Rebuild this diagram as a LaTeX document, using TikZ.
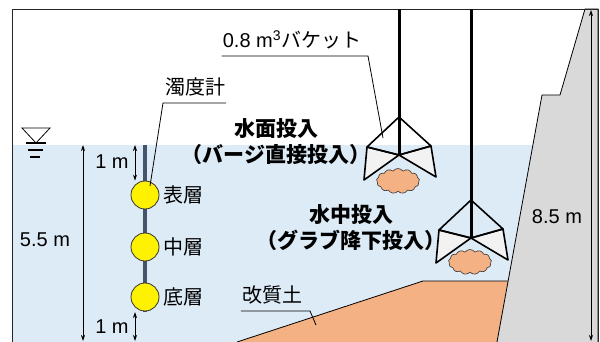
\documentclass[tikz,border=0pt]{standalone}
\usepackage{fontspec}
\setmainfont{Liberation Sans}
\newfontfamily\jp{Noto Sans CJK JP}
\usepackage{tikz}
\usetikzlibrary{arrows.meta,positioning,shapes.symbols}
\definecolor{waterBlue}{RGB}{221,235,247}
\definecolor{soilOrange}{RGB}{244,177,131}
\definecolor{wallGray}{RGB}{217,217,217}
\definecolor{rodSlate}{RGB}{68,84,106}
\definecolor{bucketGray}{RGB}{242,242,242}

\begin{document}
\begin{tikzpicture}[x=1pt, y=-1pt, font=\fontsize{20}{24}\selectfont,
  lbl/.style={inner sep=1pt},
  jtxt/.style={inner sep=1pt, font=\fontsize{20}{24}\selectfont\jp},
  jbold/.style={align=center, inner sep=0pt, font=\fontsize{21}{26}\selectfont\jp\bfseries},
  dim/.style={line width=0.8pt, {Stealth[length=6pt,width=4pt]}-{Stealth[length=6pt,width=4pt]}},
  leader/.style={line width=0.8pt},
  rope/.style={line width=3pt},
  bucketline/.style={line width=1.6pt, line join=round},
  sensor/.style={circle, draw=black!80, line width=0.8pt, fill=yellow, minimum size=28pt, inner sep=0pt},
  mud/.style={cloud, cloud puffs=13, cloud puff arc=110, aspect=1.8, draw=black!80, line width=0.6pt,
    fill=soilOrange, minimum width=43pt, minimum height=25pt, inner sep=0pt},
  bucketpic/.pic={
    \coordinate (-c) at (0,0);
    \draw[bucketline, fill=bucketGray] (-32,-8) -- (0,0) -- (-35,25) -- cycle;
    \draw[bucketline, fill=bucketGray] (32,-9) -- (0,0) -- (37,22) -- cycle;
    \draw[bucketline] (0,0) -- (-32,-8) -- (0,-38) -- (32,-9) -- cycle;
  }]
\useasboundingbox (0,0) rectangle (600,342);
% 水域
\fill[waterBlue] (12,145) rectangle (598,342);
% 改質土
\fill[soilOrange] (237,342) -- (423,281) -- (520,281) -- (520,342) -- cycle;
\draw[line width=0.8pt] (237,342) -- (423,281) -- (515,281);
% 岸壁
\draw[fill=wallGray, line width=0.8pt] (497,342) -- (542,95) -- (560,95) -- (585,9) -- (598,9) -- (598,342);
% 枠
\draw[line width=0.8pt, black!85] (12,342) -- (12,9) -- (598,9) -- (598,342);
% 水位記号
\draw[line width=0.8pt, fill=white] (22,128) -- (50,128) -- (36,143) -- cycle;
\draw[line width=1.4pt] (26,143) -- (46,143) (28,150) -- (43,150) (30,157) -- (40,157);

% 濁度計
\coordinate (rodTop) at (145,145);
\coordinate (rodBot) at (145,312);
\draw[line width=4pt, rodSlate] (rodTop) -- (rodBot);
\node[sensor] (sens1) at (145,195) {};
\node[sensor] (sens2) at (145,247) {};
\node[sensor] (sens3) at (145,297) {};
\node[jtxt, right=3pt of sens1] (lay1) {表層};
\node[jtxt, right=3pt of sens2] (lay2) {中層};
\node[jtxt, right=3pt of sens3] (lay3) {底層};
\node[jtxt] (turb) at (195,87) {濁度計};
\coordinate (turbBend) at (163,103);
\coordinate (turbTip) at (150,186);
\draw[leader] (turbBend -| turb.east) -- (turbBend) -- (turbTip);

% 寸法
\coordinate (ws1) at (135,145);
\draw[dim] (ws1) -- (ws1 |- sens1.north);
\draw[dim] (rodBot -| ws1) -- (135,341);
\node[lbl] (top1m) at (112,162) {1 m};
\node[lbl] (bot1m) at (112,327) {1 m};
\coordinate (ws2) at (83,145);
\draw[dim] (ws2) -- (83,341);
\node[lbl] (depth55) at (45,240) {5.5 m};
\coordinate (wallTop) at (591,10);
\draw[dim] (wallTop) -- (591,341);
\node[lbl] (depth85) at (557,217) {8.5 m};

% バケット
\node[mud] (mudA) at (398,181) {};
\node[mud] (mudB) at (470,262) {};
\pic (bkA) at (399,155) {bucketpic};
\pic (bkB) at (471,238) {bucketpic};
\coordinate (hookA) at (399,9);
\coordinate (hookB) at (471,9);
\draw[rope] (hookA) -- (bkA-c);
\draw[rope] (hookB) -- (bkB-c);
\node[lbl] (bktTag) at (292,40) {0.8 m\textsuperscript{3}{\jp バケット}};
\coordinate (bktBend) at (368,56);
\coordinate (bktTip) at (383,138);
\draw[leader] (bktBend -| bktTag.west) -- (bktBend) -- (bktTip);

% 投入方法
\node[jbold] (surfIn) at (276,142) {水面投入\\（バージ直接投入）};
\node[jbold] (subIn) at (351,228) {水中投入\\（グラブ降下投入）};

% 改質土ラベル
\node[jtxt] (soilTag) at (272,295) {改質土};
\coordinate (soilBend) at (310,311);
\coordinate (soilTip) at (316,325);
\draw[leader] (soilBend -| soilTag.west) -- (soilBend) -- (soilTip);
\end{tikzpicture}
\end{document}
